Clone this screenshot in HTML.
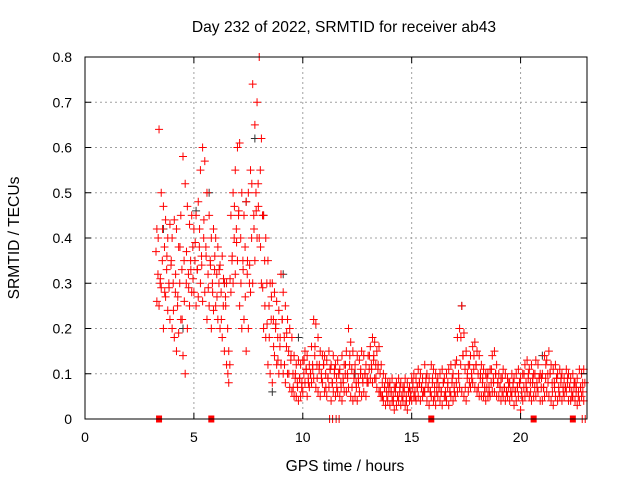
<!DOCTYPE html>
<html><head><meta charset="utf-8"><style>
body{margin:0;background:#fff}
svg{display:block;font-family:"Liberation Sans",sans-serif}
</style></head><body>
<svg id="chart" width="640" height="480" viewBox="0 0 640 480" xmlns="http://www.w3.org/2000/svg">
<rect width="640" height="480" fill="#fff"/>
<g id="grid"></g>
<g id="marks"></g>
<g id="axes"></g>
<text x="344" y="32" font-size="15.6" text-anchor="middle">Day 232 of 2022, SRMTID for receiver ab43</text>
<text x="345" y="471" font-size="15.6" text-anchor="middle">GPS time / hours</text>
<text x="19" y="238" font-size="15.6" text-anchor="middle" transform="rotate(-90 19 238)">SRMTID / TECUs</text>
</svg>
<script>
const xTicks=[0,5,10,15,20];
const yTicks=[0,0.1,0.2,0.3,0.4,0.5,0.6,0.7,0.8];
const yTickLabels=["0","0.1","0.2","0.3","0.4","0.5","0.6","0.7","0.8"];
const times=[3.3,3.4,3.5,3.6,3.7,3.8,3.9,
4.0,4.1,4.2,4.3,4.4,4.5,4.6,4.7,4.8,4.9,5.0,5.1,5.2,5.3,5.4,5.5,5.6,5.7,5.8,5.9,
6.0,6.1,6.2,6.3,6.4,6.5,6.6,6.7,6.8,6.9,7.0,7.1,7.2,7.3,7.4,7.5,7.6,7.7,7.8,7.9,
8.0,8.1,8.2,8.3,8.4,8.5,8.6,8.7,8.8,8.9,9.0,9.1,9.2,9.3,9.4,9.5,9.6,9.7,9.8,9.9,
10.0,10.1,10.2,10.3,10.4,10.5,10.6,10.7,10.8,10.9,11.0,11.1,11.2,11.3,11.4,11.5,11.6,11.7,11.8,11.9,
12.0,12.1,12.2,12.3,12.4,12.5,12.6,12.7,12.8,12.9,13.0,13.1,13.2,13.3,13.4,13.5,13.6,13.7,13.8,13.9,
14.0,14.1,14.2,14.3,14.4,14.5,14.6,14.7,14.8,14.9,15.0,15.1,15.2,15.3,15.4,15.5,15.6,15.7,15.8,15.9,
16.0,16.1,16.2,16.3,16.4,16.5,16.6,16.7,16.8,16.9,17.0,17.1,17.2,17.3,17.4,17.5,17.6,17.7,17.8,17.9,
18.0,18.1,18.2,18.3,18.4,18.5,18.6,18.7,18.8,18.9,19.0,19.1,19.2,19.3,19.4,19.5,19.6,19.7,19.8,19.9,
20.0,20.1,20.2,20.3,20.4,20.5,20.6,20.7,20.8,20.9,21.0,21.1,21.2,21.3,21.4,21.5,21.6,21.7,21.8,21.9,
22.0,22.1,22.2,22.3,22.4,22.5,22.6,22.7,22.8,22.9];
const hiVals=[.42,.64,.50,.47,.44,.40,.43,
.40,.44,.42,.38,.45,.58,.52,.47,.43,.45,.42,.45,.48,.55,.60,.57,.50,.45,.40,.42,
.40,.38,.34,.36,.30,.30,.15,.45,.50,.55,.60,.61,.50,.45,.48,.50,.55,.74,.65,.70,
.80,.62,.45,.40,.35,.30,.30,.28,.26,.24,.32,.28,.25,.22,.20,.18,.14,.12,.13,.12,
.13,.15,.14,.12,.16,.22,.21,.18,.15,.14,.14,.13,.15,.12,.14,.12,.13,.11,.14,.12,
.15,.20,.17,.15,.12,.14,.13,.15,.14,.12,.14,.16,.18,.17,.15,.16,.12,.10,.09,.08,
.08,.09,.07,.08,.09,.08,.07,.09,.08,.07,.09,.10,.09,.11,.10,.09,.12,.10,.09,.12,
.11,.10,.09,.10,.11,.09,.10,.11,.12,.10,.12,.18,.20,.25,.19,.15,.12,.14,.16,.17,
.15,.14,.12,.11,.10,.10,.11,.14,.15,.12,.10,.09,.11,.10,.09,.08,.10,.09,.10,.11,
.09,.10,.12,.13,.11,.12,.10,.13,.12,.10,.10,.14,.13,.15,.12,.11,.12,.10,.11,.10,
.09,.11,.10,.09,.10,.08,.09,.11,.10,.11];
const midVals=[.32,.30,.35,.38,.33,.30,.34,
.30,.28,.25,.30,.33,.35,.30,.32,.35,.38,.35,.33,.38,.36,.40,.38,.32,.35,.30,.33,
.32,.30,.28,.25,.27,.20,.12,.35,.40,.42,.45,.40,.35,.38,.32,.30,.40,.45,.50,.52,
.55,.45,.35,.30,.25,.22,.22,.20,.18,.16,.22,.18,.16,.15,.13,.10,.09,.08,.09,.07,
.10,.11,.09,.10,.12,.14,.12,.11,.10,.12,.10,.09,.11,.08,.10,.09,.10,.08,.09,.10,
.10,.12,.11,.09,.08,.09,.10,.09,.10,.08,.11,.12,.13,.12,.11,.10,.08,.07,.06,.06,
.06,.05,.06,.05,.06,.05,.06,.05,.06,.05,.07,.06,.07,.08,.07,.06,.08,.07,.06,.08,
.07,.06,.07,.06,.08,.06,.07,.06,.08,.07,.08,.10,.12,.14,.11,.09,.08,.10,.11,.12,
.10,.09,.08,.07,.07,.07,.08,.09,.10,.08,.07,.06,.07,.06,.07,.06,.07,.06,.07,.08,
.06,.07,.08,.09,.08,.08,.07,.08,.09,.07,.07,.09,.10,.10,.08,.08,.09,.07,.08,.07,
.07,.08,.07,.06,.07,.06,.05,.07,.08,.08];
const mid2Vals=[.37,.40,.31,.42,.28,.36,.29,
.35,.24,.32,.27,.38,.22,.26,.37,.29,.33,.31,.39,.33,.42,.34,.44,.36,.29,.34,.28,
.36,.27,.33,.22,.31,.25,.10,.31,.36,.47,.39,.46,.30,.33,.27,.35,.34,.52,.42,.46,
.47,.38,.29,.25,.21,.18,.27,.16,.21,.13,.18,.22,.12,.19,.10,.14,.07,.10,.07,.09,
.08,.13,.11,.08,.10,.11,.16,.09,.12,.09,.12,.07,.09,.11,.08,.11,.07,.10,.07,.08,
.12,.09,.14,.07,.10,.07,.08,.11,.08,.10,.09,.14,.11,.14,.09,.12,.06,.05,.07,.05,
.07,.06,.04,.07,.05,.07,.05,.07,.04,.06,.06,.08,.05,.07,.08,.07,.06,.09,.07,.06,
.09,.05,.08,.07,.06,.08,.05,.08,.06,.09,.06,.13,.09,.18,.14,.07,.10,.12,.09,.14,
.12,.07,.10,.09,.06,.09,.06,.11,.08,.10,.08,.07,.09,.07,.06,.08,.06,.08,.06,.07,
.08,.05,.10,.07,.10,.06,.09,.10,.07,.09,.09,.07,.12,.08,.10,.06,.07,.09,.06,.09,
.06,.07,.09,.07,.05,.08,.07,.06,.07,.06];
const loVals=[.26,.25,.29,.20,.27,.24,.22,
.20,.18,.15,.19,.22,.14,.10,.20,.25,.28,.28,.25,.27,.30,.26,.28,.22,.25,.20,.24,
.25,.22,.20,.18,.15,.12,.08,.28,.30,.32,.35,.25,.20,.22,.15,.20,.28,.30,.35,.40,
.40,.30,.20,.18,.12,.10,.08,.14,.12,.10,.12,.10,.08,.10,.07,.06,.05,.05,.04,.05,
.06,.08,.05,.07,.08,.09,.07,.06,.05,.08,.06,.05,.07,.04,.06,.05,.06,.05,.04,.06,
.06,.07,.05,.04,.05,.04,.06,.05,.06,.05,.08,.09,.08,.09,.07,.06,.05,.04,.03,.04,
.03,.04,.02,.03,.04,.03,.04,.03,.02,.04,.04,.05,.04,.05,.04,.05,.06,.04,.03,.05,
.04,.03,.05,.04,.03,.05,.04,.03,.05,.04,.05,.06,.07,.06,.05,.04,.06,.07,.08,.07,
.06,.05,.05,.05,.04,.05,.05,.06,.06,.05,.05,.04,.05,.04,.05,.04,.05,.03,.04,.05,
.02,.04,.05,.06,.05,.04,.05,.05,.06,.04,.04,.05,.06,.05,.04,.03,.05,.04,.05,.04,
.05,.06,.04,.04,.05,.04,.03,.04,.05,.04];
const blackTimes=[4.5,5.7,6.4,7.8,8.2,9.1,9.8,12.4,17.3,21.0,3.6,5.1,7.4,8.6];
const blackVals=[0.20,0.50,0.30,0.62,0.45,0.32,0.18,0.10,0.25,0.14,0.42,0.46,0.48,0.06];
const zeroSquareTimes=[3.4,5.8,15.9,20.6,22.4];
const zeroCrossTimes=[11.3,11.6,22.9];

const X0=85,X1=587,Y0=419,Y1=57,XMAX=23.05,YMAX=0.8;
const xs=v=>X0+(v/XMAX)*(X1-X0);
const ys=v=>Y0-(v/YMAX)*(Y0-Y1);
const NS="http://www.w3.org/2000/svg";
function mk(tag,attrs,parent){const e=document.createElementNS(NS,tag);for(const k in attrs)e.setAttribute(k,attrs[k]);parent.appendChild(e);return e;}
const grid=document.getElementById('grid'),marks=document.getElementById('marks'),axes=document.getElementById('axes');
xTicks.forEach(t=>{if(t>0){const l=mk('line',{x1:xs(t),x2:xs(t),y1:Y1,y2:Y0,stroke:'#a0a0a0','stroke-dasharray':'2,3'},grid);

}});
yTicks.forEach(t=>{if(t>0&&t<YMAX){const l=mk('line',{x1:X0,x2:X1,y1:ys(t),y2:ys(t),stroke:'#a0a0a0','stroke-dasharray':'2,3'},grid);

}});
function plus(t,v,col,name){const x=xs(t),y=ys(v);
const p=mk('path',{d:`M${x-4},${y}h8M${x},${y-4}v8`,stroke:col,'stroke-width':1,fill:'none'},marks);

}
blackTimes.forEach((t,i)=>plus(t,blackVals[i],'#333','black-point'));
times.forEach((t,i)=>{plus(t,hiVals[i],'#f00','red-point');plus(t+0.05,midVals[i],'#f00','red-point');plus(t-0.04,mid2Vals[i],'#f00','red-point');plus(t,loVals[i],'#f00','red-point');});
zeroSquareTimes.forEach(t=>{const r=mk('rect',{x:xs(t)-3,y:Y0-3.5,width:6,height:7,fill:'#f00'},marks);

});
zeroCrossTimes.forEach(t=>{const r=mk('path',{d:`M${xs(t)-1.5},${Y0-4}v8M${xs(t)+1.5},${Y0-4}v8`,stroke:'#f00'},marks);

});
const fr=mk('rect',{x:X0,y:Y1,width:X1-X0,height:Y0-Y1,fill:'none',stroke:'#000','stroke-width':1},axes);


xTicks.forEach(t=>{mk('line',{x1:xs(t),x2:xs(t),y1:Y0,y2:Y0-6,stroke:'#000'},axes);mk('line',{x1:xs(t),x2:xs(t),y1:Y1,y2:Y1+6,stroke:'#000'},axes);
const tx=mk('text',{x:xs(t),y:Y0+23,'font-size':14,'text-anchor':'middle'},axes);tx.textContent=t;

});
yTicks.forEach((t,i)=>{mk('line',{x1:X0,x2:X0+6,y1:ys(t),y2:ys(t),stroke:'#000'},axes);mk('line',{x1:X1,x2:X1-6,y1:ys(t),y2:ys(t),stroke:'#000'},axes);
const tx=mk('text',{x:X0-13,y:ys(t)+5,'font-size':14,'text-anchor':'end'},axes);tx.textContent=yTickLabels[i];

});
</script>
</body></html>
